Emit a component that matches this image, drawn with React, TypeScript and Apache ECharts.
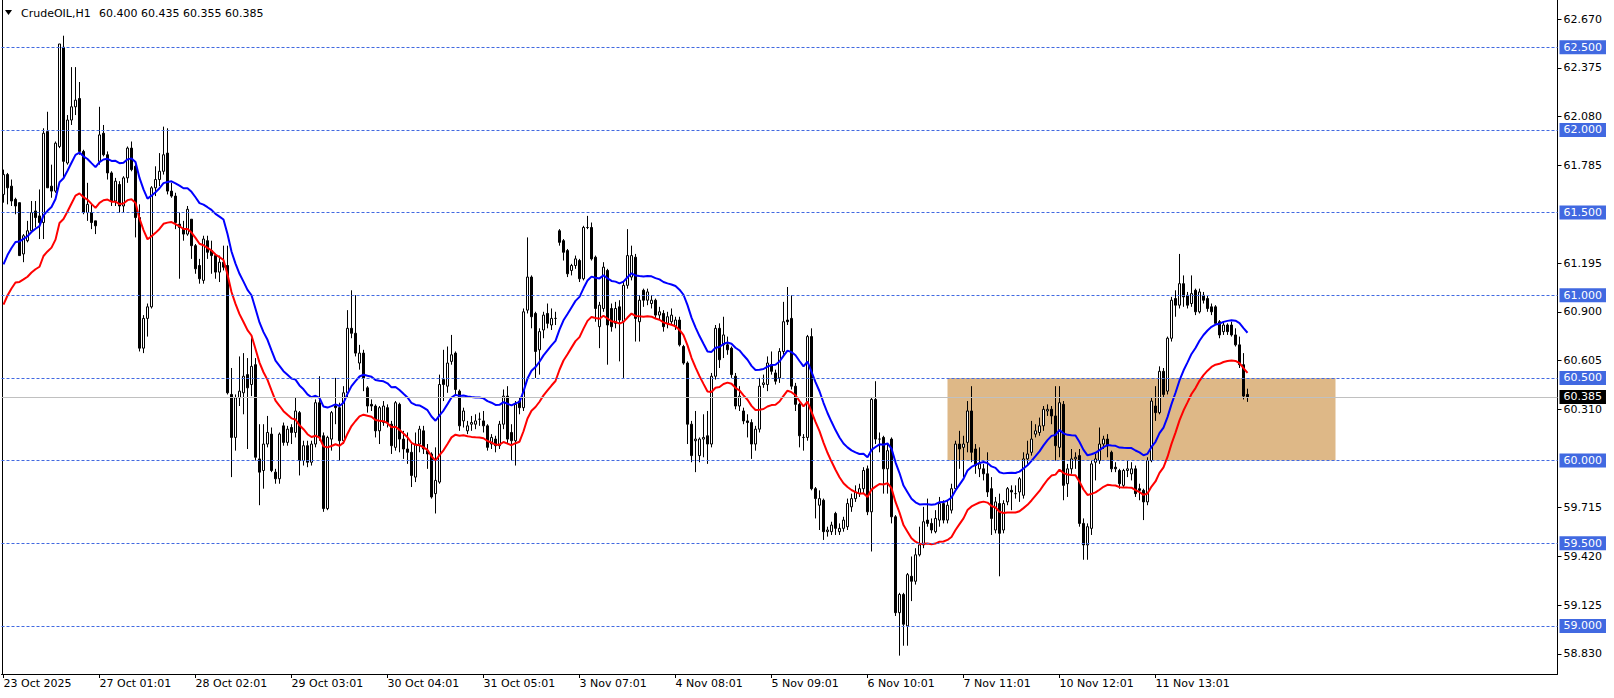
import React, { useEffect, useRef } from "react";
import * as echarts from "echarts";

// ---------- data ----------
const symbol = "CrudeOIL";
const timeframe = "H1";

const dateLabels = [
  "23 Oct 2025", "27 Oct 01:01", "28 Oct 02:01", "29 Oct 03:01", "30 Oct 04:01",
  "31 Oct 05:01", "3 Nov 07:01", "4 Nov 08:01", "5 Nov 09:01", "6 Nov 10:01",
  "7 Nov 11:01", "10 Nov 12:01", "11 Nov 13:01",
];
const barsPerLabel = 24;
const slotCount = 389;

const priceTicks = [62.67, 62.375, 62.08, 61.785, 61.195, 60.9, 60.605, 60.31, 59.715, 59.42, 59.125, 58.83];
const levels = [62.5, 62.0, 61.5, 61.0, 60.5, 60.0, 59.5, 59.0];
const priceMin = 58.709;
const priceMax = 62.786;

const zoneFrom = 236;
const zoneTo = 333;
const zoneTop = 60.5;
const zoneBottom = 60.0;

const envelopePeriod = 20;
const envelopeDeviationPct = 0.2;
const envelopeStart = 61.065;

// candles: [open, high, low, close]
const seg23Oct = [
  [61.61, 61.76, 61.56, 61.73], [61.73, 61.74, 61.55, 61.65], [61.66, 61.70, 61.54, 61.57], [61.58, 61.59, 61.49, 61.54],
  [61.56, 61.56, 61.24, 61.24], [61.25, 61.37, 61.20, 61.36], [61.33, 61.45, 61.32, 61.39], [61.39, 61.57, 61.38, 61.50],
  [61.51, 61.57, 61.41, 61.47], [61.48, 61.64, 61.34, 61.44], [61.44, 62.01, 61.34, 61.98], [61.99, 62.11, 61.65, 61.65],
  [61.66, 61.79, 61.59, 61.63], [61.63, 61.93, 61.62, 61.92], [61.90, 62.52, 61.89, 62.52], [62.50, 62.57, 61.71, 61.81],
  [61.80, 62.09, 61.79, 62.06], [62.06, 62.38, 62.03, 62.14], [62.14, 62.38, 62.09, 62.18], [62.19, 62.29, 61.85, 61.87],
  [61.87, 61.88, 61.49, 61.50], [61.50, 61.68, 61.45, 61.55], [61.50, 61.55, 61.40, 61.44], [61.45, 61.45, 61.37, 61.42],
];
const seg27Oct = [
  [61.81, 62.14, 61.79, 61.97], [61.98, 62.03, 61.84, 61.85], [61.85, 61.87, 61.70, 61.74], [61.74, 61.75, 61.54, 61.57],
  [61.57, 61.71, 61.54, 61.69], [61.67, 61.69, 61.50, 61.54], [61.54, 61.72, 61.50, 61.71], [61.71, 61.90, 61.68, 61.89],
  [61.89, 61.93, 61.75, 61.76], [61.78, 61.79, 61.35, 61.47], [61.47, 61.55, 60.66, 60.68], [60.68, 60.88, 60.65, 60.86],
  [60.86, 60.95, 60.75, 60.93], [60.93, 61.66, 60.92, 61.65], [61.65, 61.78, 61.60, 61.70], [61.70, 61.86, 61.66, 61.75],
  [61.75, 62.02, 61.73, 61.85], [61.86, 62.01, 61.61, 61.63], [61.63, 61.68, 61.59, 61.60], [61.60, 61.62, 61.40, 61.44],
  [61.43, 61.50, 61.10, 61.41], [61.40, 61.45, 61.33, 61.37], [61.37, 61.54, 61.36, 61.52], [61.46, 61.46, 61.22, 61.30],
];
const seg28Oct = [
  [61.30, 61.31, 61.13, 61.16], [61.18, 61.22, 61.07, 61.10], [61.09, 61.36, 61.07, 61.34], [61.33, 61.36, 61.22, 61.26],
  [61.27, 61.33, 61.13, 61.24], [61.24, 61.25, 61.10, 61.14], [61.14, 61.24, 61.08, 61.20], [61.20, 61.30, 61.15, 61.17],
  [61.18, 61.30, 60.40, 60.41], [60.40, 60.56, 59.90, 60.14], [60.14, 60.40, 60.06, 60.38], [60.38, 60.63, 60.33, 60.42],
  [60.41, 60.65, 60.28, 60.51], [60.52, 60.62, 60.07, 60.44], [60.46, 60.74, 60.39, 60.57], [60.58, 60.62, 60.00, 60.02],
  [60.01, 60.22, 59.73, 59.93], [59.94, 60.22, 59.83, 60.10], [60.10, 60.27, 60.08, 60.17], [60.16, 60.20, 59.93, 59.94],
  [59.93, 59.95, 59.86, 59.89], [59.89, 60.17, 59.86, 60.16], [60.21, 60.23, 60.09, 60.11], [60.11, 60.21, 60.09, 60.19],
];
const seg29Oct = [
  [60.20, 60.22, 60.10, 60.17], [60.17, 60.38, 60.14, 60.30], [60.29, 60.30, 59.91, 60.00], [60.00, 60.12, 59.97, 60.09],
  [60.09, 60.12, 59.96, 59.99], [59.99, 60.12, 59.97, 60.10], [60.10, 60.37, 60.08, 60.35], [60.35, 60.51, 60.12, 60.14],
  [60.15, 60.17, 59.69, 59.71], [59.71, 60.15, 59.70, 60.14], [60.13, 60.30, 60.06, 60.29], [60.33, 60.50, 60.22, 60.32],
  [60.32, 60.35, 60.00, 60.12], [60.12, 60.45, 60.10, 60.41], [60.41, 60.91, 60.38, 60.80], [60.80, 61.03, 60.74, 60.77],
  [60.77, 61.00, 60.63, 60.65], [60.59, 60.70, 60.55, 60.65], [60.65, 60.67, 60.42, 60.50], [60.44, 60.45, 60.29, 60.33],
  [60.34, 60.37, 60.30, 60.33], [60.33, 60.34, 60.14, 60.18], [60.18, 60.33, 60.10, 60.32], [60.23, 60.36, 60.21, 60.33],
];
const seg30Oct = [
  [60.32, 60.34, 60.20, 60.23], [60.22, 60.24, 60.04, 60.09], [60.08, 60.36, 60.06, 60.35], [60.34, 60.35, 60.05, 60.13],
  [60.13, 60.18, 60.01, 60.07], [60.07, 60.17, 59.98, 60.05], [60.05, 60.10, 59.84, 59.91], [59.90, 60.17, 59.87, 60.10],
  [60.10, 60.21, 60.05, 60.19], [60.18, 60.21, 60.04, 60.07], [60.06, 60.10, 59.95, 60.04], [60.04, 60.05, 59.77, 59.78],
  [59.80, 60.08, 59.68, 59.88], [59.87, 60.52, 59.86, 60.46], [60.49, 60.67, 60.36, 60.46], [60.45, 60.69, 60.41, 60.59],
  [60.60, 60.76, 60.58, 60.64], [60.65, 60.66, 60.40, 60.43], [60.42, 60.43, 60.18, 60.21], [60.24, 60.32, 60.20, 60.30],
  [60.18, 60.24, 60.16, 60.21], [60.22, 60.27, 60.18, 60.23], [60.22, 60.28, 60.19, 60.24], [60.25, 60.29, 60.21, 60.25],
];
const seg31Oct = [
  [60.24, 60.30, 60.17, 60.21], [60.21, 60.22, 60.06, 60.08], [60.10, 60.16, 60.07, 60.14], [60.13, 60.15, 60.05, 60.09],
  [60.09, 60.24, 60.07, 60.22], [60.22, 60.43, 60.19, 60.39], [60.39, 60.45, 60.10, 60.13], [60.17, 60.22, 60.00, 60.12],
  [60.12, 60.36, 59.97, 60.34], [60.36, 60.38, 60.28, 60.32], [60.32, 60.92, 60.30, 60.90], [60.91, 61.35, 60.89, 61.11],
  [61.11, 61.12, 60.80, 60.87], [60.89, 60.90, 60.50, 60.66], [60.67, 60.80, 60.52, 60.78], [60.79, 60.90, 60.74, 60.88],
  [60.89, 60.95, 60.80, 60.83], [60.82, 60.92, 60.79, 60.86], [60.86, 60.90, 60.82, 60.86], [61.39, 61.40, 61.30, 61.32],
  [61.33, 61.34, 61.21, 61.26], [61.27, 61.28, 61.11, 61.13], [61.15, 61.19, 61.12, 61.18], [61.18, 61.24, 61.16, 61.22],
];
const seg03Nov = [
  [61.21, 61.22, 61.08, 61.10], [61.10, 61.42, 61.09, 61.41], [61.41, 61.48, 61.40, 61.41], [61.41, 61.44, 61.21, 61.22],
  [61.23, 61.24, 60.84, 60.92], [60.81, 60.96, 60.68, 60.94], [60.92, 61.20, 60.90, 61.17], [61.15, 61.16, 60.58, 60.82],
  [60.92, 60.95, 60.78, 60.81], [60.83, 60.96, 60.80, 60.92], [60.93, 60.97, 60.60, 60.85], [60.84, 61.08, 60.50, 61.06],
  [61.06, 61.40, 61.04, 61.24], [61.11, 61.30, 61.09, 61.24], [61.23, 61.25, 60.72, 60.86], [60.84, 61.00, 60.72, 60.97],
  [61.03, 61.04, 60.93, 60.97], [60.97, 61.04, 60.94, 61.02], [60.95, 61.00, 60.92, 60.97], [60.97, 60.98, 60.86, 60.88],
  [60.88, 60.93, 60.85, 60.90], [60.89, 60.91, 60.78, 60.81], [60.83, 60.90, 60.80, 60.87], [60.84, 60.92, 60.82, 60.88],
];
const seg04Nov = [
  [60.81, 60.87, 60.79, 60.85], [60.85, 60.87, 60.69, 60.70], [60.69, 60.70, 60.58, 60.59], [60.59, 60.60, 60.10, 60.22],
  [60.22, 60.24, 59.99, 60.03], [60.12, 60.30, 59.93, 60.13], [60.03, 60.14, 59.99, 60.13], [60.13, 60.28, 60.02, 60.14],
  [60.15, 60.30, 59.98, 60.10], [60.10, 60.53, 60.08, 60.51], [60.51, 60.82, 60.49, 60.80], [60.80, 60.83, 60.56, 60.61],
  [60.70, 60.87, 60.62, 60.76], [60.70, 60.75, 60.64, 60.67], [60.68, 60.69, 60.50, 60.52], [60.51, 60.53, 60.31, 60.33],
  [60.33, 60.45, 60.30, 60.39], [60.30, 60.32, 60.22, 60.24], [60.24, 60.28, 60.14, 60.23], [60.23, 60.25, 60.01, 60.10],
  [60.10, 60.21, 60.06, 60.19], [60.19, 60.50, 60.17, 60.45], [60.46, 60.52, 60.44, 60.47], [60.46, 60.63, 60.42, 60.59],
];
const seg05Nov = [
  [60.58, 60.66, 60.52, 60.54], [60.53, 60.55, 60.46, 60.48], [60.50, 60.68, 60.47, 60.66], [60.66, 60.96, 60.64, 60.84],
  [60.85, 61.05, 60.82, 60.84], [60.86, 61.00, 60.43, 60.45], [60.45, 60.47, 60.30, 60.34], [60.34, 60.35, 60.08, 60.15],
  [60.14, 60.16, 60.06, 60.14], [60.14, 60.76, 60.12, 60.75], [60.75, 60.80, 59.82, 59.83], [59.83, 59.84, 59.65, 59.77],
  [59.73, 59.82, 59.58, 59.77], [59.76, 59.77, 59.52, 59.57], [59.57, 59.60, 59.54, 59.58], [59.57, 59.63, 59.55, 59.61],
  [59.68, 59.69, 59.55, 59.59], [59.57, 59.62, 59.55, 59.59], [59.59, 59.66, 59.57, 59.64], [59.60, 59.77, 59.58, 59.74],
  [59.72, 59.80, 59.69, 59.77], [59.77, 59.85, 59.75, 59.81], [59.80, 59.86, 59.78, 59.83], [59.83, 59.96, 59.80, 59.94],
];
const seg06Nov = [
  [59.95, 59.97, 59.67, 59.69], [59.69, 60.38, 59.45, 60.37], [60.37, 60.48, 60.10, 60.13], [60.13, 60.17, 60.05, 60.13],
  [60.14, 60.15, 59.80, 59.95], [59.95, 60.10, 59.80, 60.06], [60.13, 60.14, 59.62, 59.66], [59.66, 59.67, 59.06, 59.08],
  [59.08, 59.20, 58.82, 59.19], [59.19, 59.20, 58.88, 59.01], [59.00, 59.32, 58.88, 59.31], [59.30, 59.42, 59.15, 59.27],
  [59.27, 59.47, 59.25, 59.43], [59.43, 59.60, 59.42, 59.49], [59.49, 59.72, 59.47, 59.63], [59.64, 59.77, 59.60, 59.62],
  [59.62, 59.65, 59.56, 59.58], [59.57, 59.70, 59.56, 59.65], [59.64, 59.78, 59.60, 59.74], [59.74, 59.76, 59.62, 59.64],
  [59.64, 59.76, 59.62, 59.73], [59.70, 59.86, 59.68, 59.83], [59.83, 60.12, 59.82, 60.10], [60.10, 60.18, 59.95, 60.07],
];
const seg07Nov = [
  [60.08, 60.15, 59.90, 60.10], [60.11, 60.36, 60.05, 60.30], [60.30, 60.45, 59.99, 60.05], [60.07, 60.10, 59.92, 59.97],
  [59.95, 60.08, 59.90, 59.98], [59.95, 59.98, 59.88, 59.92], [59.92, 60.05, 59.78, 59.81], [59.83, 59.90, 59.55, 59.65],
  [59.58, 59.78, 59.56, 59.75], [59.74, 59.80, 59.30, 59.56], [59.58, 59.76, 59.56, 59.74], [59.75, 59.84, 59.73, 59.83],
  [59.82, 59.85, 59.70, 59.81], [59.80, 59.85, 59.77, 59.80], [59.81, 59.90, 59.75, 59.89], [59.79, 60.05, 59.77, 60.01],
  [60.01, 60.12, 59.98, 60.04], [60.05, 60.24, 60.03, 60.13], [60.16, 60.22, 60.14, 60.18], [60.17, 60.26, 60.15, 60.21],
  [60.21, 60.33, 60.18, 60.31], [60.30, 60.34, 60.27, 60.31], [60.31, 60.33, 60.22, 60.27], [60.27, 60.45, 60.00, 60.09],
];
const seg10Nov = [
  [60.08, 60.45, 60.02, 60.35], [60.34, 60.36, 59.76, 59.85], [59.86, 59.98, 59.78, 59.95], [59.95, 60.07, 59.92, 60.01],
  [60.01, 60.05, 59.95, 60.02], [60.03, 60.07, 59.60, 59.62], [59.62, 59.65, 59.40, 59.49], [59.49, 59.62, 59.40, 59.60],
  [59.59, 60.00, 59.55, 59.98], [59.99, 60.04, 59.88, 60.01], [60.00, 60.20, 59.98, 60.10], [60.10, 60.15, 60.07, 60.13],
  [60.13, 60.16, 60.02, 60.09], [60.05, 60.06, 59.93, 59.95], [59.96, 59.99, 59.93, 59.95], [59.94, 59.95, 59.83, 59.86],
  [59.85, 59.95, 59.84, 59.94], [59.94, 60.00, 59.90, 59.95], [59.92, 59.99, 59.88, 59.95], [59.95, 59.97, 59.78, 59.80],
  [59.83, 59.86, 59.76, 59.82], [59.82, 59.83, 59.64, 59.75], [59.75, 60.02, 59.73, 60.00], [60.00, 60.38, 59.99, 60.36],
];
const seg11Nov = [
  [60.33, 60.45, 60.24, 60.29], [60.29, 60.57, 60.28, 60.54], [60.54, 60.56, 60.38, 60.40], [60.42, 60.75, 60.40, 60.74],
  [60.74, 60.99, 60.72, 60.97], [60.98, 61.03, 60.87, 60.94], [60.94, 61.25, 60.92, 61.07], [61.07, 61.12, 60.93, 60.99],
  [61.00, 61.02, 60.92, 60.94], [60.95, 61.12, 60.93, 61.01], [61.03, 61.04, 60.88, 60.90], [60.90, 61.04, 60.89, 61.02],
  [61.00, 61.02, 60.95, 60.97], [60.98, 61.00, 60.90, 60.92], [60.93, 60.95, 60.88, 60.90], [60.93, 60.94, 60.82, 60.83],
  [60.84, 60.85, 60.74, 60.76], [60.78, 60.84, 60.76, 60.82], [60.82, 60.83, 60.76, 60.78], [60.82, 60.84, 60.75, 60.76],
  [60.76, 60.80, 60.69, 60.70], [60.70, 60.75, 60.56, 60.58], [60.58, 60.65, 60.37, 60.39], [60.400, 60.435, 60.355, 60.385],
];

const candles = [
  ...seg23Oct, ...seg27Oct, ...seg28Oct, ...seg29Oct, ...seg30Oct, ...seg31Oct, ...seg03Nov,
  ...seg04Nov, ...seg05Nov, ...seg06Nov, ...seg07Nov, ...seg10Nov, ...seg11Nov,
];

// ---------- component ----------
const FONT = '"DejaVu Sans", Verdana, sans-serif';

export default function App() {
  const ref = useRef<HTMLDivElement>(null);

  useEffect(() => {
    if (!ref.current) return;
    const chart = echarts.init(ref.current, null, { renderer: "svg" });

    const slots = Array.from({ length: slotCount }, (_, i) => String(i));
    const ohlc = candles.map(([o, h, l, c]) => [o, c, l, h]);
    const closes = candles.map((k) => k[3]);

    // Envelopes: EMA of close +/- deviation %
    const alpha = 2 / (envelopePeriod + 1);
    const ema: number[] = [];
    closes.forEach((c, i) => {
      ema.push(i === 0 ? envelopeStart : ema[i - 1] + alpha * (c - ema[i - 1]));
    });
    const dev = envelopeDeviationPct / 100;
    const upper = ema.map((v) => +(v * (1 + dev)).toFixed(4));
    const lower = ema.map((v) => +(v * (1 - dev)).toFixed(4));

    const last = candles[candles.length - 1];
    const lastClose = last[3];

    const labelShown = (idx: number) =>
      idx % barsPerLabel === 0 && idx / barsPerLabel < dateLabels.length;

    const option: any = {
      animation: false,
      backgroundColor: "#ffffff",
      grid: { left: 1.5, right: 56.5, top: 0, bottom: 24, containLabel: false },
      xAxis: {
        type: "category",
        data: slots,
        boundaryGap: true,
        axisLine: { show: true, lineStyle: { color: "#000", width: 1 } },
        axisTick: {
          show: true,
          alignWithLabel: true,
          interval: (idx: number) => labelShown(idx),
          length: 4,
          lineStyle: { color: "#000" },
        },
        axisLabel: {
          interval: (idx: number) => labelShown(idx),
          formatter: (_v: string, idx: number) =>
            labelShown(idx) ? dateLabels[idx / barsPerLabel] : "",
          align: "left",
          margin: 4,
          color: "#000",
          fontFamily: FONT,
          fontSize: 11,
        },
        splitLine: { show: false },
      },
      yAxis: {
        type: "value",
        position: "right",
        min: priceMin,
        max: priceMax,
        axisLine: { show: true, lineStyle: { color: "#000", width: 1 } },
        axisTick: { show: true, length: 4, customValues: priceTicks, lineStyle: { color: "#000" } },
        axisLabel: {
          customValues: priceTicks,
          formatter: (v: number) => v.toFixed(3),
          color: "#000",
          fontFamily: FONT,
          fontSize: 11,
          margin: 6,
        },
        splitLine: { show: false },
      },
      graphic: [
        { type: "polygon", shape: { points: [[5, 10], [12, 10], [8.5, 15]] }, style: { fill: "#000" }, silent: true },
        {
          type: "text", x: 21, y: 13, silent: true,
          style: { text: `${symbol},${timeframe}`, font: `11px ${FONT}`, fill: "#000", verticalAlign: "middle" },
        },
        {
          type: "text", x: 99, y: 13, silent: true,
          style: {
            text: [last[0], last[1], last[2], last[3]].map((v) => v.toFixed(3)).join(" "),
            font: `11px ${FONT}`, fill: "#000", verticalAlign: "middle",
          },
        },
        { type: "line", shape: { x1: 2.5, y1: 0, x2: 2.5, y2: 674 }, style: { stroke: "#000", lineWidth: 1 }, silent: true },
      ],
      series: [
        {
          name: "zone",
          type: "line",
          data: [],
          z: 1,
          silent: true,
          markArea: {
            silent: true,
            itemStyle: { color: "#DEB887", opacity: 1 },
            data: [[
              { xAxis: String(zoneFrom), yAxis: zoneTop },
              { xAxis: String(zoneTo), yAxis: zoneBottom },
            ]],
          },
        },
        {
          name: "price",
          type: "candlestick",
          data: ohlc,
          z: 2,
          silent: true,
          barWidth: 2,
          itemStyle: {
            color: "#ffffff",
            color0: "#000000",
            borderColor: "#000000",
            borderColor0: "#000000",
            borderColorDoji: "#000000",
            borderWidth: 1,
          },
          markLine: {
            silent: true,
            precision: 3,
            symbol: ["none", "none"],
            lineStyle: { color: "#4169E1", width: 1, type: [3, 2] },
            label: {
              show: true,
              position: "end",
              distance: 2,
              formatter: (p: any) => Number(p.value).toFixed(3),
              backgroundColor: "#4169E1",
              color: "#ffffff",
              padding: [1, 4, 1, 4],
              fontFamily: FONT,
              fontSize: 11,
              lineHeight: 12,
            },
            data: levels.map((v) => ({ yAxis: v })),
          },
        },
        {
          name: "upper",
          type: "line",
          data: upper,
          z: 3,
          silent: true,
          symbol: "none",
          lineStyle: { color: "#0000FF", width: 2 },
          markLine: {
            silent: true,
            precision: 3,
            symbol: ["none", "none"],
            lineStyle: { color: "#C0C0C0", width: 1, type: "solid" },
            label: {
              show: true,
              position: "end",
              distance: 2,
              formatter: (p: any) => Number(p.value).toFixed(3),
              backgroundColor: "#000000",
              color: "#ffffff",
              padding: [1, 4, 1, 4],
              fontFamily: FONT,
              fontSize: 11,
              lineHeight: 12,
            },
            data: [{ yAxis: lastClose }],
          },
        },
        {
          name: "lower",
          type: "line",
          data: lower,
          z: 3,
          silent: true,
          symbol: "none",
          lineStyle: { color: "#FF0000", width: 2 },
        },
      ],
    };

    chart.setOption(option);
    return () => chart.dispose();
  }, []);

  return (
    <div
      ref={ref}
      style={{ position: "fixed", left: 0, top: 0, width: 1614, height: 698, background: "#fff" }}
    />
  );
}
